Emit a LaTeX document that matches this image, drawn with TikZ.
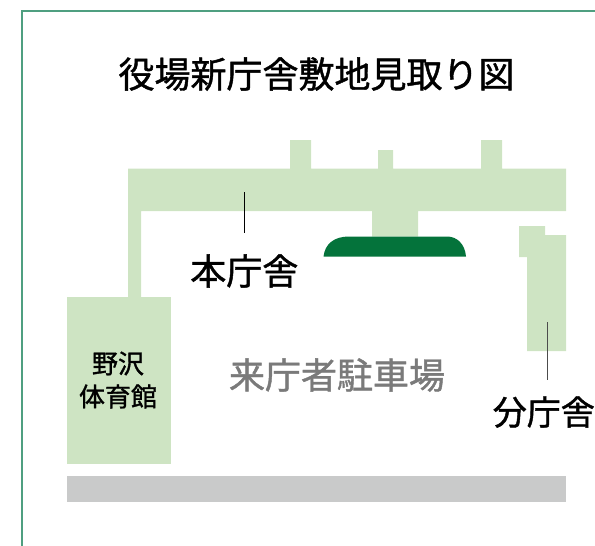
\documentclass[tikz,border=0pt]{standalone}
\usepackage{fontspec}
\setmainfont[FakeBold=1.2]{Noto Sans CJK JP}
\definecolor{bldg}{HTML}{CEE4C3}
\definecolor{dome}{HTML}{04733B}
\definecolor{road}{HTML}{C9CACA}
\definecolor{frameg}{HTML}{4F9F80}
\definecolor{lblgray}{HTML}{7A7A7A}
\tikzset{
  bldgfill/.style={fill=bldg,draw=none},
  lbl/.style={inner sep=0pt,text=black,font=\fontsize{36}{36}\selectfont},
  small/.style={inner sep=0pt,text=black,align=center,font=\fontsize{26}{33}\selectfont},
  leader/.style={draw=black,line width=0.8pt},
}
\begin{document}
\begin{tikzpicture}[x=1pt,y=-1pt]
\useasboundingbox (0,0) rectangle (595,546);
\draw[frameg,line width=1.7pt] (22.3,546) -- (22.3,11.3) -- (595,11.3);
\node[lbl] (title) at (316.5,74) {役場新庁舎敷地見取り図};
% main building
\fill[bldgfill] (128,297) -- (128,168.5) -- (290,168.5) -- (290,140) -- (311,140) -- (311,168.5)
  -- (378,168.5) -- (378,150) -- (393,150) -- (393,168.5) -- (481,168.5) -- (481,140) -- (502,140)
  -- (502,168.5) -- (566,168.5) -- (566,211) -- (418,211) -- (418,236.5) -- (372,236.5) -- (372,211)
  -- (141,211) -- (141,297) -- cycle;
% entrance canopy
\fill[dome] (323.5,256.5) .. controls (325,244) and (334,236.5) .. (349,236.5) -- (447,236.5)
  .. controls (457,236.5) and (465,244) .. (466,256.5) -- cycle;
% annex
\fill[bldgfill] (519,226) -- (545,226) -- (545,235) -- (566,235) -- (566,351) -- (527,351) -- (527,257) -- (519,257) -- cycle;
% gym
\fill[bldgfill] (67,297) rectangle (171,464);
% road
\fill[road] (67,476) rectangle (566,502);
\coordinate (honA) at (244.3,192);
\coordinate (honB) at (244.3,233);
\coordinate (bunA) at (547,322);
\coordinate (bunB) at (547,380);
\draw[leader] (honA) -- (honB);
\draw[leader,draw=black!70] (bunA) -- (bunB);
\node[lbl] (honcho) at (244.3,271) {本庁舎};
\node[lbl,font=\fontsize{34}{34}\selectfont] (buncho) at (543.8,412) {分庁舎};
\node[lbl,text=lblgray] (parking) at (337,375) {来庁者駐車場};
\node[small] (gym) at (118,380) {野沢\\体育館};
\end{tikzpicture}
\end{document}
